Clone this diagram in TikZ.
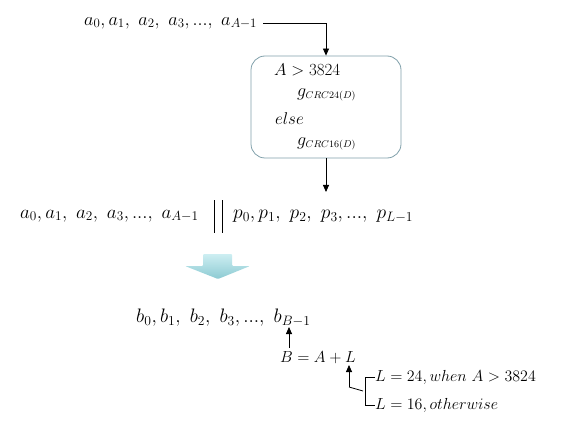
\RequirePackage{fix-cm}
\documentclass[tikz,border=0pt]{standalone}
\usepackage{amsmath}
\usetikzlibrary{arrows.meta,calc}
\definecolor{boxline}{RGB}{128,160,170}
\definecolor{arrtop}{RGB}{205,238,242}
\definecolor{arrbot}{RGB}{140,202,210}
\newcommand{\tdots}{{.}{.}{.}}
\newcommand{\gsub}[1]{g_{\hbox{\fontsize{9.8}{11}\selectfont$#1$}}}
\begin{document}
\begin{tikzpicture}[x=1pt,y=-1pt,
  arr/.style={line width=0.8pt,-{Triangle[length=7pt,width=6pt]}},
  ln/.style={line width=0.8pt},
  big/.style={font=\fontsize{19.5}{21}\selectfont,inner sep=0pt,anchor=west},
  aseqt/.style={font=\fontsize{19}{21}\selectfont,inner sep=0pt,anchor=west},
  topt/.style={font=\fontsize{18.4}{21}\selectfont,inner sep=0pt,anchor=west},
  med/.style={font=\fontsize{17}{19}\selectfont,inner sep=0pt,anchor=west},
  gsty/.style={font=\fontsize{18}{20}\selectfont,inner sep=0pt,anchor=west},
  sml/.style={font=\fontsize{16}{18}\selectfont,inner sep=0pt,anchor=west}]
\useasboundingbox (0,0) rectangle (575,422);
% top input
\node[topt] (atop) at (84,23) {$a_0,a_1,\ a_2,\ a_3,\tdots,\ a_{A-1}$};
% CRC box
\node[draw=boxline,line width=0.8pt,rounded corners=14pt,
      minimum width=150pt,minimum height=102pt,inner sep=0pt] (crc) at (326,107) {};
\node[med] (c1) at (274,70) {$A>3824$};
\node[gsty] (c2) at (297,95) {$\gsub{CRC24(D)}$};
\node[med] (c3) at (275,119) {$else$};
\node[gsty] (c4) at (297,144) {$\gsub{CRC16(D)}$};
\draw[arr] (atop.east) ++(6,0) coordinate (s0) -| (crc.north);
% concatenation
\node[aseqt] (aseq) at (20,216) {$a_0,a_1,\ a_2,\ a_3,\tdots,\ a_{A-1}$};
\node[big] (pseq) at (233,216) {$p_0,p_1,\ p_2,\ p_3,\tdots,\ p_{L-1}$};
\coordinate (pin) at (326,192);
\draw[arr] (crc.south) -- (pin);
\draw[ln] (214,200) -- (214,233);
\draw[ln] (222,200) -- (222,233);
% block arrow
\shade[top color=arrtop,bottom color=arrbot,draw=none,rounded corners=1pt]
  (203,254) -- (232,254) -- (232,266) -- (250,266) -- (218,279) -- (185,266) -- (203,266) -- cycle;
% output
\node[big] (bseq) at (136,318) {$b_0,b_1,\ b_2,\ b_3,\tdots,\ b_{B-1}$};
\node[sml] (beq) at (280,358) {$B=A+L$};
\coordinate (bup) at (289,348);
\coordinate (bin) at (289,327);
\draw[arr] (bup) -- (bin);
\node[sml] (l24) at (375,377) {$L=24, when\ A>3824$};
\node[sml] (l16) at (375,405) {$L=16, otherwise$};
\coordinate (lin) at (349,365);
\coordinate (lk) at (349,387);
\coordinate (lj) at (363,391);
\draw[arr] (lk) -- (lin);
\draw[ln] (lk) -- (lj);
\draw[ln] (l24.west) -- ++(-10,0) coordinate (t1) -- (t1 |- l16.west) -- (l16.west);
\end{tikzpicture}
\end{document}
